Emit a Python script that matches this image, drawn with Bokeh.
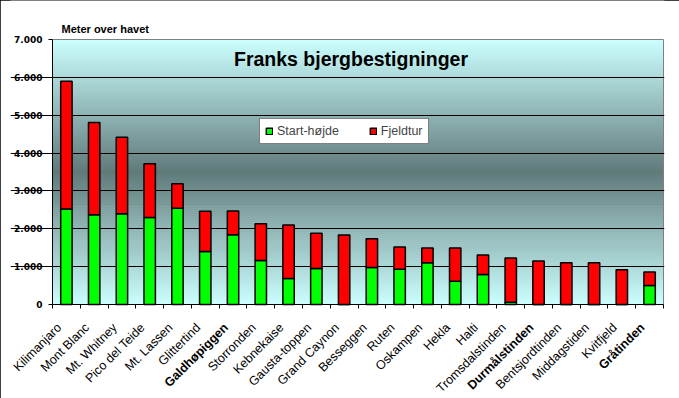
import numpy as np
from bokeh.plotting import figure
from bokeh.models import ColumnDataSource, FixedTicker, LabelSet, Range1d
from bokeh.core.properties import value
from bokeh.embed import file_html
from bokeh.resources import INLINE

# ---- data ----
mountains = ["Kilimanjaro", "Mont Blanc", "Mt. Whitney", "Pico del Teide", "Mt. Lassen",
             "Glittertind", "Galdhøpiggen", "Storronden", "Kebnekaise", "Gausta-toppen",
             "Grand Caynon", "Besseggen", "Ruten", "Oskampen", "Hekla", "Halti",
             "Tromsdalstinden", "Durmålstinden", "Bentsjordtinden", "Middagstiden",
             "Kvitfjeld", "Gråtinden"]
start_height = [2520, 2370, 2400, 2300, 2540, 1400, 1845, 1160, 685, 950,
                0, 975, 930, 1100, 615, 790, 60, 0, 0, 0, 0, 500]
summit_height = [5895, 4810, 4420, 3718, 3187, 2465, 2469, 2130, 2100, 1885,
                 1835, 1735, 1520, 1495, 1491, 1310, 1230, 1150, 1100, 1100, 915, 860]
bold_names = ["Galdhøpiggen", "Durmålstinden", "Gråtinden"]
y_ticks = [0, 1000, 2000, 3000, 4000, 5000, 6000, 7000]
y_tick_labels = ["0", "1.000", "2.000", "3.000", "4.000", "5.000", "6.000", "7.000"]
series_names = ["Start-højde", "Fjeldtur"]
chart_title = "Franks bjergbestigninger"
unit_title = "Meter over havet"

n = len(mountains)
xpos = list(np.arange(n) + 0.5)
trip = [t - s for t, s in zip(summit_height, start_height)]

# ---- layout (pixels) ----
W, H = 679, 398
BL, BR, BB = 10, 15, 8
PLOT_LEFT, PLOT_RIGHT = 52, 663          # page x of first / last category edge
PLOT_TOP, PLOT_BOTTOM = 39, 304          # page y of 7000 and of 0
frame_h = H - BB
YMAX = y_ticks[-1]
py = YMAX / (PLOT_BOTTOM - PLOT_TOP)     # data units per pixel (y)
px = n / (PLOT_RIGHT - PLOT_LEFT)        # data units per pixel (x)
x_lo = -(PLOT_LEFT - BL) * px
x_hi = n + ((W - BR) - PLOT_RIGHT) * px
y_lo = -(frame_h - PLOT_BOTTOM) * py
y_hi = YMAX + PLOT_TOP * py

p = figure(width=W, height=H, x_range=Range1d(x_lo, x_hi), y_range=Range1d(y_lo, y_hi),
           output_backend="svg", toolbar_location=None,
           min_border_left=BL, min_border_right=BR, min_border_top=0, min_border_bottom=BB)
p.styles = {"outline": "1px solid black", "outline-offset": "-1px"}
p.border_fill_color = "white"
p.background_fill_color = "white"
p.outline_line_color = None

# gradient background of the plot area (decoration)
bands = 133
edges = np.linspace(0, YMAX, bands + 1)
light = np.array([204, 255, 255])
dark = np.array([96, 122, 122])
cols = []
for i in range(bands):
    f = ((edges[i] + edges[i + 1]) / 2) / YMAX
    t = 1 - abs(f - 0.5) / 0.5
    c = light + (dark - light) * t
    cols.append("#%02x%02x%02x" % tuple(int(round(v)) for v in c))
tops = np.minimum(edges[1:] + YMAX / bands * 0.3, YMAX)
p.quad(left=0, right=n, bottom=edges[:-1], top=tops,
       fill_color=cols, line_color=None, level="image")

# grid
p.xgrid.visible = False
p.ygrid.ticker = FixedTicker(ticks=y_ticks[1:-1])
p.ygrid.grid_line_color = "black"
p.ygrid.grid_line_width = 1
p.ygrid.bounds = (0, n)

# plot-area border (grey)
p.quad(left=0, right=n, bottom=0, top=YMAX, fill_color=None,
       line_color="#808080", line_width=1, level="underlay")

# bars
src = ColumnDataSource(dict(x=xpos, start=start_height, trip=trip, name=mountains))
p.vbar_stack(["start", "trip"], x="x", width=0.41, source=src,
             fill_color=["#00FF00", "#FF0000"], line_color="black", line_width=1.5,
             legend_label=series_names)

# axes (drawn at the data origin)
p.yaxis.fixed_location = 0
p.yaxis.bounds = (0, YMAX)
p.yaxis.ticker = FixedTicker(ticks=y_ticks)
p.yaxis.major_label_overrides = {t: "" for t in y_ticks}
p.yaxis.major_label_standoff = 0
p.xaxis.fixed_location = 0
p.xaxis.bounds = (0, n)
p.xaxis.ticker = FixedTicker(ticks=list(range(n + 1)))
p.xaxis.major_label_overrides = {i: "" for i in range(n + 1)}
p.xaxis.major_label_standoff = 0
for ax in (p.xaxis, p.yaxis):
    ax.axis_line_color = "black"
    ax.axis_line_width = 1
    ax.major_tick_line_color = "black"
    ax.major_tick_in = 0
    ax.major_tick_out = 4
    ax.minor_tick_line_color = None

# y tick labels
ysrc = ColumnDataSource(dict(y=y_ticks, t=y_tick_labels))
p.add_layout(LabelSet(x=0, y="y", text="t", source=ysrc, x_offset=-10,
                      text_align="right", text_baseline="middle",
                      text_font=value("DejaVu Sans"), text_font_size=value("9px"),
                      text_font_style=value("bold"), text_color="black"))

# category labels (normal and bold)
for style, keep in (("normal", False), ("bold", True)):
    idx = [i for i, m in enumerate(mountains) if (m in bold_names) == keep]
    s = ColumnDataSource(dict(x=[xpos[i] for i in idx], name=[mountains[i] for i in idx]))
    p.add_layout(LabelSet(x="x", y=-21 * py, text="name", source=s, angle=np.pi / 4,
                          x_offset=-7, text_align="right", text_baseline="middle",
                          text_font=value("Liberation Sans"), text_font_size=value("12.5px"),
                          text_font_style=value(style), text_color="black"))

# titles
tsrc = ColumnDataSource(dict(x=[n / 2 - 7 * px, 9 * px], y=[YMAX - 19.5 * py, YMAX + 10.5 * py],
                             t=[chart_title, unit_title], size=["19.5px", "11px"],
                             align=["center", "left"]))
p.add_layout(LabelSet(x="x", y="y", text="t", source=tsrc, text_align="align",
                      text_baseline="middle", text_font=value("Liberation Sans"),
                      text_font_style=value("bold"), text_font_size="size",
                      text_color="black"))

# legend
lg = p.legend[0]
lg.orientation = "horizontal"
lg.location = (207 + (PLOT_LEFT - BL), frame_h - 144)
lg.margin = 0
lg.padding = 5
lg.spacing = 30
lg.glyph_width = 8
lg.glyph_height = 8
lg.label_standoff = 4
lg.label_height = 13
lg.label_text_font = "Liberation Sans"
lg.label_text_font_size = "12.5px"
lg.border_line_color = "black"
lg.border_line_width = 1
lg.background_fill_color = "white"
lg.background_fill_alpha = 1

open("out.html", "w").write(file_html(p, INLINE))
